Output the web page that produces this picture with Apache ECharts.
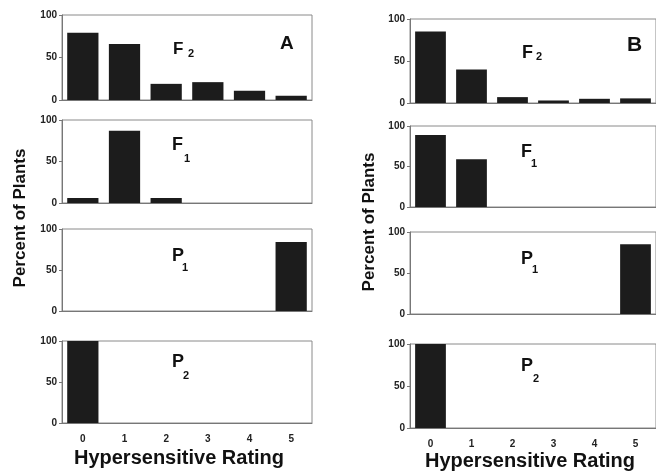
<!DOCTYPE html>
<html>
<head>
<meta charset="utf-8">
<script src="https://cdn.jsdelivr.net/npm/echarts@6/dist/echarts.min.js"></script>
<style>html,body{margin:0;padding:0;background:#fff}#c{width:656px;height:472px}</style>
</head>
<body>
<div id="c"></div>
<script>
// Data
var categories = ['0', '1', '2', '3', '4', '5'];
var yTicks = [0, 50, 100];
// Panel A
var aF2 = [79, 66, 19, 21, 11, 5];
var aF1 = [6, 87, 6, 0, 0, 0];
var aP1 = [0, 0, 0, 0, 0, 84];
var aP2 = [100, 0, 0, 0, 0, 0];
// Panel B
var bF2 = [85, 40, 7, 3, 5, 5.5];
var bF1 = [89, 59, 0, 0, 0, 0];
var bP1 = [0, 0, 0, 0, 0, 85];
var bP2 = [100, 0, 0, 0, 0, 0];
var xTitle = 'Hypersensitive Rating';
var yTitle = 'Percent of Plants';

var FONT = '"Liberation Sans", Arial, sans-serif';
var panels = [
  {data: aF2, left: 62, top: 15, h: 85, last: false},
  {data: aF1, left: 62, top: 120, h: 83, last: false},
  {data: aP1, left: 62, top: 229, h: 82, last: false},
  {data: aP2, left: 62, top: 341, h: 82, last: true},
  {data: bF2, left: 410, top: 19, h: 84, last: false},
  {data: bF1, left: 410, top: 126, h: 81, last: false},
  {data: bP1, left: 410, top: 232, h: 82, last: false},
  {data: bP2, left: 410, top: 344, h: 84, last: true}
];
var grids = [], xAxes = [], yAxes = [], series = [];
panels.forEach(function (p, i) {
  grids.push({left: p.left, top: p.top, width: 250, height: p.h, show: true,
    borderColor: '#8a8a8a', borderWidth: 1, backgroundColor: 'transparent'});
  xAxes.push({type: 'category', gridIndex: i, data: categories,
    axisLine: {lineStyle: {color: '#777', width: 1}}, axisTick: {show: false},
    axisLabel: {show: p.last, margin: 11, fontSize: 10, fontWeight: 'bold', color: '#222', fontFamily: FONT}});
  yAxes.push({type: 'value', gridIndex: i, min: yTicks[0], max: yTicks[2], interval: yTicks[1] - yTicks[0],
    splitLine: {show: false},
    axisLine: {show: true, lineStyle: {color: '#777', width: 1}},
    axisTick: {show: true, length: 3, lineStyle: {color: '#777'}},
    axisLabel: {margin: 5, fontSize: 10, fontWeight: 'bold', color: '#222', fontFamily: FONT}});
  series.push({type: 'bar', xAxisIndex: i, yAxisIndex: i, data: p.data,
    barCategoryGap: '25%', itemStyle: {color: '#1c1c1c'}, silent: true});
});

function txt(t, x, y, size, align, rot) {
  var o = {type: 'text', x: x, y: y, silent: true,
    style: {text: t, fill: '#111', fontSize: size, fontWeight: 'bold', fontFamily: FONT,
      align: align || 'left', verticalAlign: 'middle'}};
  if (rot) o.rotation = rot;
  return o;
}
var graphics = [
  // panel A labels
  txt('F', 173, 49, 17), txt('2', 188, 54, 11), txt('A', 280, 44, 19),
  txt('F', 172, 145, 18), txt('1', 184, 159, 11),
  txt('P', 172, 256, 18), txt('1', 182, 268, 11),
  txt('P', 172, 362, 18), txt('2', 183, 376, 11),
  // panel B labels
  txt('F', 522, 53, 18), txt('2', 536, 57, 11), txt('B', 627, 45, 21),
  txt('F', 521, 152, 18), txt('1', 531, 164, 11),
  txt('P', 521, 259, 18), txt('1', 532, 270, 11),
  txt('P', 521, 366, 18), txt('2', 533, 379, 11),
  // axis titles
  txt(xTitle, 179, 458, 20, 'center'),
  txt(xTitle, 530, 461, 20, 'center'),
  txt(yTitle, 20, 218, 17, 'center', Math.PI / 2),
  txt(yTitle, 369, 222, 17, 'center', Math.PI / 2)
];

var chart = echarts.init(document.getElementById('c'), null, {renderer: 'canvas'});
chart.setOption({
  animation: false,
  backgroundColor: '#fff',
  grid: grids, xAxis: xAxes, yAxis: yAxes, series: series,
  graphic: graphics
});
</script>
</body>
</html>
